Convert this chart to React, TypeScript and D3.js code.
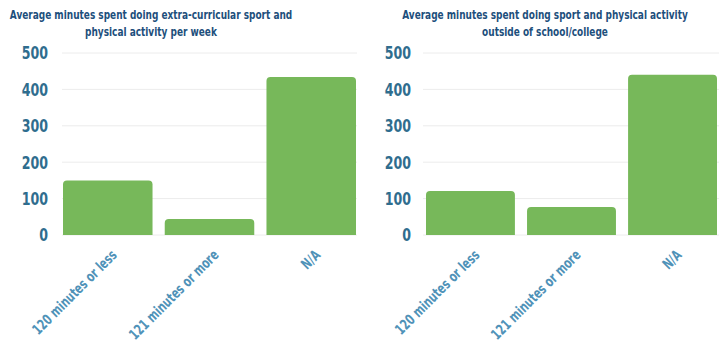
import React from "react";
import * as d3 from "d3";

const categories = ["120 minutes or less", "121 minutes or more", "N/A"];
const extraCurricularMinutes = [150, 44, 434];
const outsideSchoolMinutes = [121, 77, 440];
const yTickValues = [0, 100, 200, 300, 400, 500];
const titleLeft = [
  "Average minutes spent doing extra-curricular sport and",
  "physical activity per week",
];
const titleRight = [
  "Average minutes spent doing sport and physical activity",
  "outside of school/college",
];

const FONT = "'DejaVu Sans', sans-serif";
const BAR = "#77b85a";
const TITLE = "#1d4f7c";
const YLAB = "#2f6d8e";
const XLAB = "#4f92b8";

type PanelProps = {
  values: number[];
  title: string[];
  x0: number;
  x1: number;
  gx0: number;
  gx1: number;
  titleX: number;
  labelX: number;
};

function Panel({ values, title, x0, x1, gx0, gx1, titleX, labelX }: PanelProps) {
  const x = d3.scaleBand<string>().domain(categories).range([x0, x1]).paddingInner(0.12).paddingOuter(0);
  const y = d3.scaleLinear().domain([0, 500]).range([235, 53]);
  const r = 4;
  return (
    <g>
      {title.map((t, i) => (
        <text key={i} transform={`translate(${titleX},${19 + i * 17}) scale(0.78,1)`} textAnchor="middle" fontFamily={FONT} fontWeight="bold" fontSize={11.5} fill={TITLE}>
          {t}
        </text>
      ))}
      {yTickValues.map((v) => (
        <line key={"g" + v} x1={gx0} x2={gx1} y1={y(v)} y2={y(v)} stroke="#ececec" strokeWidth={1} />
      ))}
      {yTickValues.map((v) => (
        <text key={"t" + v} transform={`translate(${labelX},${y(v)}) scale(0.7,1)`} dy="0.36em" textAnchor="end" fontFamily={FONT} fontWeight="bold" fontSize={18} fill={YLAB}>
          {v}
        </text>
      ))}
      {categories.map((c, i) => {
        const bx = x(c)!;
        const bw = x.bandwidth();
        const top = y(values[i]);
        const bottom = y(0);
        const path = `M${bx},${bottom} V${top + r} Q${bx},${top} ${bx + r},${top} H${bx + bw - r} Q${bx + bw},${top} ${bx + bw},${top + r} V${bottom} Z`;
        return <path key={c} d={path} fill={BAR} />;
      })}
      {categories.map((c) => {
        const cx = x(c)! + x.bandwidth() / 2 + 10;
        const ty = 256;
        return (
          <text key={c} transform={`translate(${cx},${ty}) rotate(-45) scale(0.7,1)`} textAnchor="end" fontFamily={FONT} fontWeight="bold" fontSize={14.5} fill={XLAB}>
            {c}
          </text>
        );
      })}
    </g>
  );
}

export default function App() {
  return (
    <svg width={726} height={358} style={{ position: "absolute", left: 0, top: 0, background: "#fff" }}>
      <rect width={726} height={358} fill="#fff" />
      <Panel values={extraCurricularMinutes} title={titleLeft} x0={63} x1={356} gx0={62} gx1={357} titleX={151} labelX={48} />
      <Panel values={outsideSchoolMinutes} title={titleRight} x0={426} x1={717} gx0={423} gx1={719} titleX={545} labelX={411} />
    </svg>
  );
}
